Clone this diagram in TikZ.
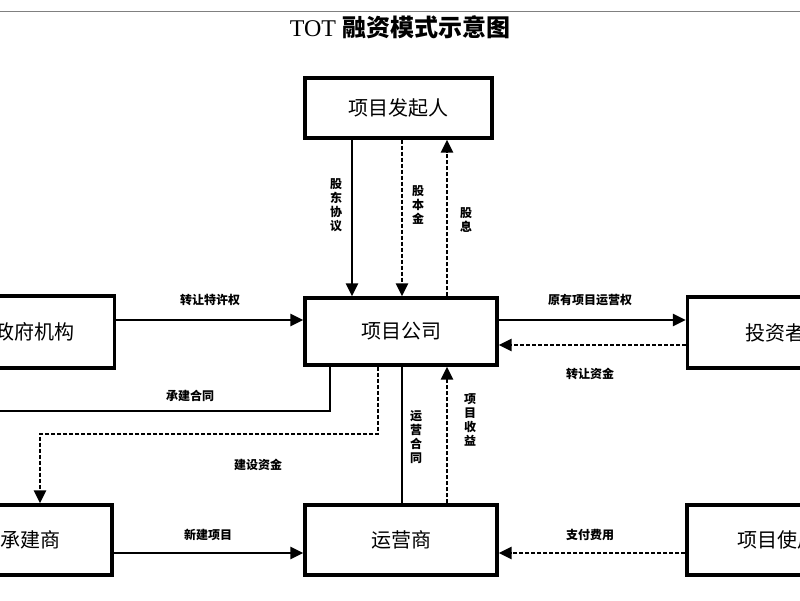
\documentclass[tikz,border=0pt]{standalone}
\usepackage{fontspec}
\setmainfont{Liberation Serif}
\newfontfamily\cjk{Noto Sans CJK SC}
\usetikzlibrary{arrows.meta}
\begin{document}
\begin{tikzpicture}[x=1pt,y=-1pt,
  box/.style={draw,line width=3.2pt,inner sep=0pt,font=\cjk\fontsize{20}{22}\selectfont},
  arr/.style={line width=2.6pt,-{Triangle[length=13pt,width=12pt]}},
  ln/.style={line width=2.6pt},
  dsh/.style={dash pattern=on 4pt off 2pt},
  lab/.style={font=\cjk\bfseries\fontsize{12}{13}\selectfont,inner sep=1pt},
  vlab/.style={lab,align=center,font=\cjk\bfseries\fontsize{12}{14}\selectfont}]
\useasboundingbox (0,0) rectangle (800,600);
\clip (0,0) rectangle (800,600);
\fill[white] (0,0) rectangle (800,600);
\draw[gray,line width=1pt] (0,11) -- (800,11);
\node[font=\fontsize{24}{26}\selectfont] (title) at (400,27) {TOT {\cjk\bfseries 融资模式示意图}};
% boxes
\node[box,minimum width=187pt,minimum height=60pt] (fq) at (398.5,108) {项目发起人};
\node[box,minimum width=192pt,minimum height=67pt] (gs) at (401,331.5) {项目公司};
\node[box,minimum width=160pt,minimum height=72pt] (zf) at (34.5,332) {政府机构};
\node[box,minimum width=175pt,minimum height=71pt] (tz) at (775,332.5) {投资者};
\node[box,minimum width=164pt,minimum height=70pt] (cj) at (30,540) {承建商};
\node[box,minimum width=192pt,minimum height=70pt] (yy) at (401,540) {运营商};
\node[box,minimum width=200pt,minimum height=70pt] (sy) at (787,540) {项目使用者};
% column/row guides
\coordinate (xa) at (352,0);
\coordinate (xb) at (402,0);
\coordinate (xc) at (447,0);
\coordinate (xd) at (330,0);
\coordinate (xe) at (378,0);
\coordinate (xf) at (40,0);
\coordinate (ya) at (0,320);
\coordinate (yb) at (0,345);
\coordinate (yc) at (0,553);
% top arrows
\draw[arr] (fq.south -| xa) -- (gs.north -| xa);
\draw[arr,dsh] (fq.south -| xb) -- (gs.north -| xb);
\draw[arr,dsh] (gs.north -| xc) -- (fq.south -| xc);
\node[vlab] (l1) at (336,205) {股\\东\\协\\议};
\node[vlab] (l2) at (418,205) {股\\本\\金};
\node[vlab] (l3) at (466,220) {股\\息};
% horizontal
\draw[arr] (zf.east |- ya) -- (gs.west |- ya);
\node[lab] (l4) at (210,300) {转让特许权};
\draw[arr] (gs.east |- ya) -- (tz.west |- ya);
\node[lab] (l5) at (590,300) {原有项目运营权};
\draw[arr,dsh] (tz.west |- yb) -- (gs.east |- yb);
\node[lab] (l6) at (590,374) {转让资金};
% contract
\coordinate (c1) at (330,411);
\coordinate (c2) at (0,411);
\draw[ln] (gs.south -| xd) -- (c1) -- (c2);
\node[lab] (l7) at (190,396) {承建合同};
\coordinate (d1) at (378,434);
\coordinate (d2) at (40,434);
\draw[arr,dsh] (gs.south -| xe) -- (d1) -- (d2) -- (cj.north -| xf);
\node[lab] (l8) at (258,465) {建设资金};
\draw[ln] (yy.north -| xb) -- (gs.south -| xb);
\draw[arr,dsh] (yy.north -| xc) -- (gs.south -| xc);
\node[vlab] (l9) at (416,437) {运\\营\\合\\同};
\node[vlab] (l10) at (470,420) {项\\目\\收\\益};
% bottom
\draw[arr] (cj.east |- yc) -- (yy.west |- yc);
\node[lab] (l11) at (208,535) {新建项目};
\draw[arr,dsh] (sy.west |- yc) -- (yy.east |- yc);
\node[lab] (l12) at (590,535) {支付费用};
\end{tikzpicture}
\end{document}
